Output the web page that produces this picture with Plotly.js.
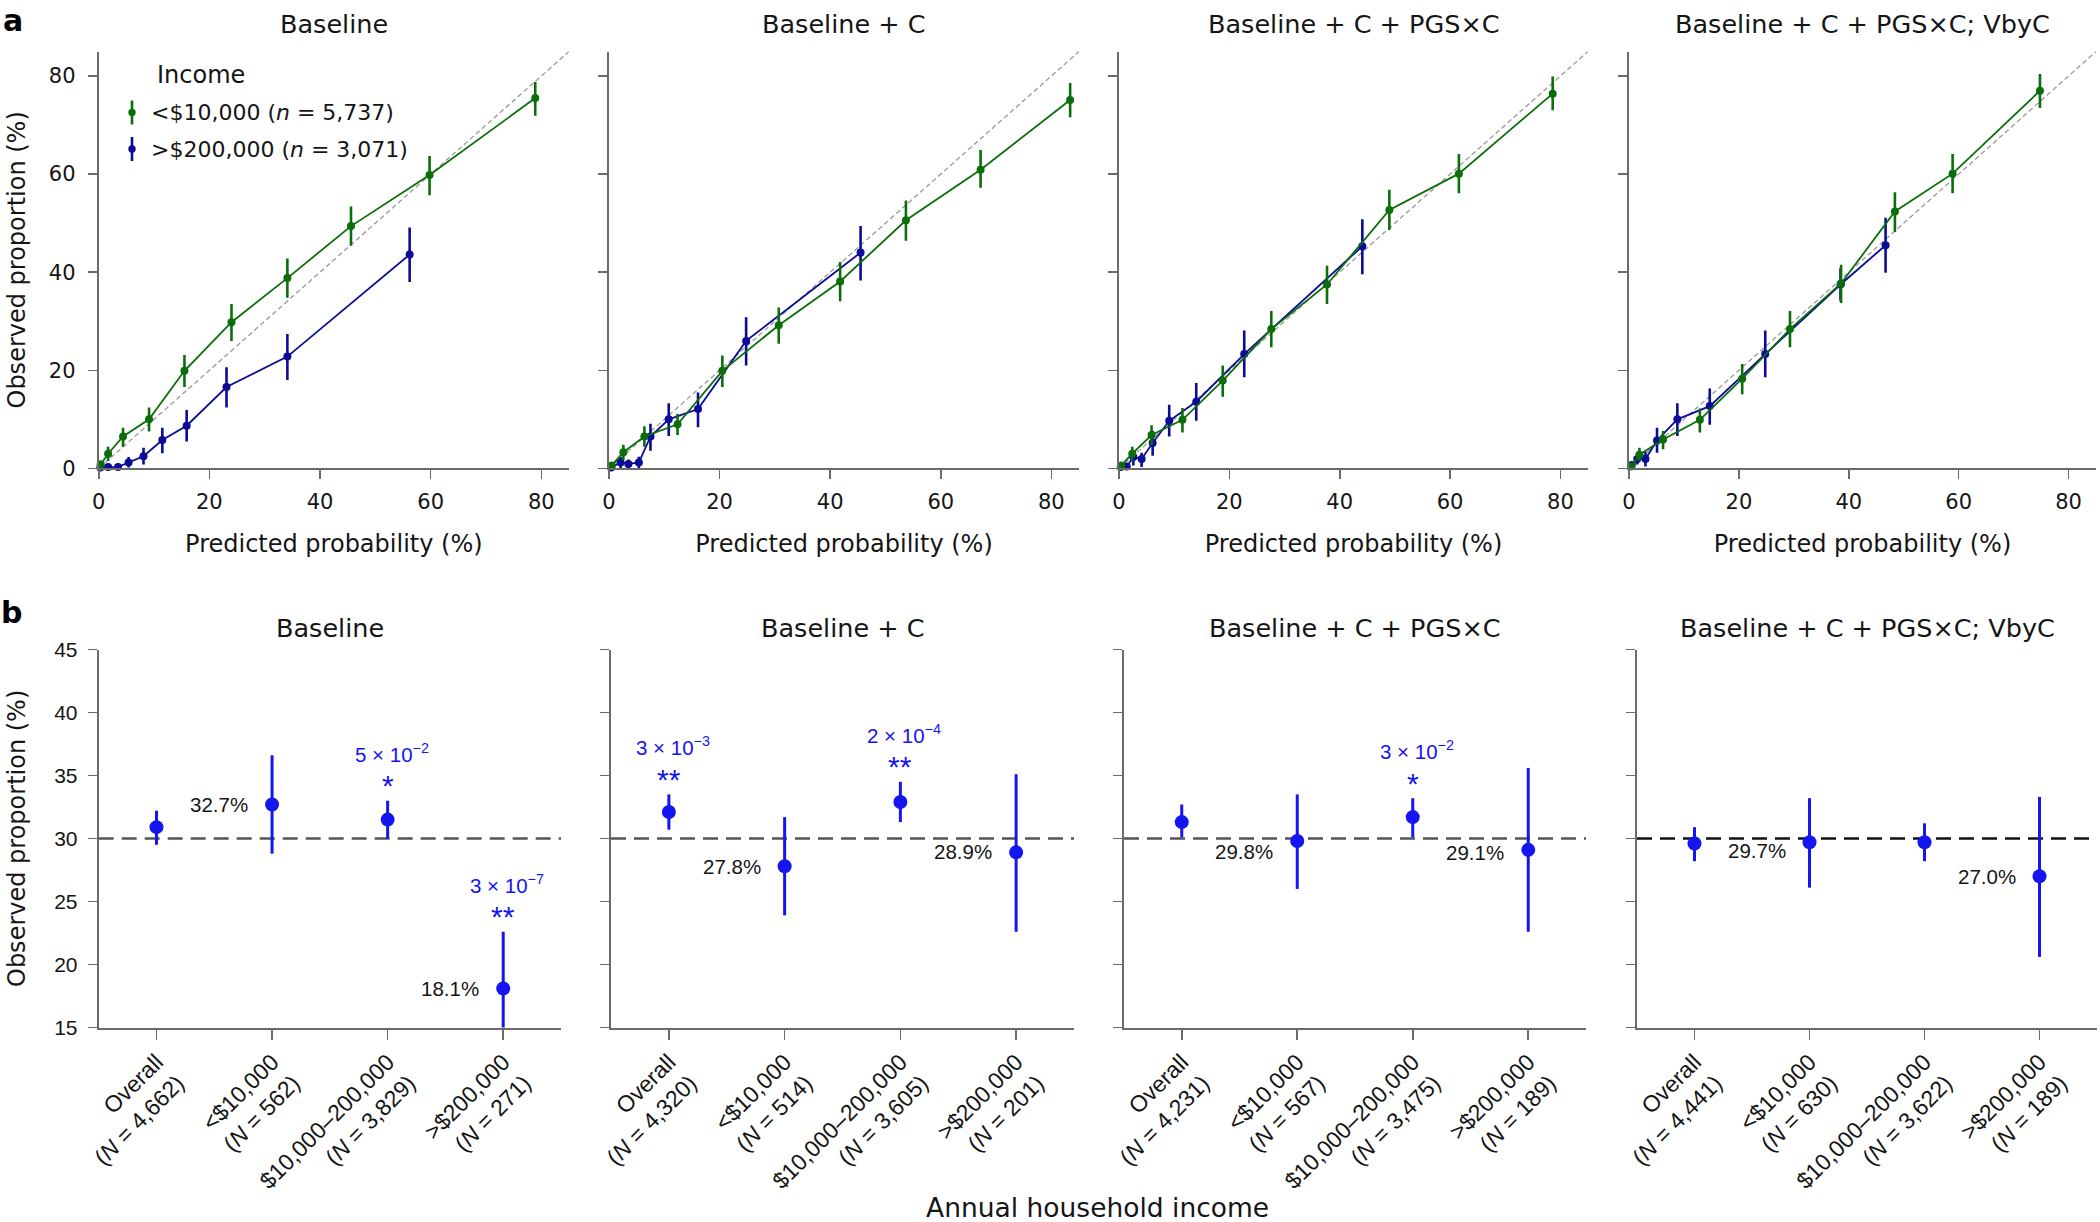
<!DOCTYPE html>
<html>
<head>
<meta charset="utf-8">
<script src="https://cdn.plot.ly/plotly-3.0.1.min.js"></script>
<style>html,body{margin:0;padding:0;background:#fff}#chart{width:2100px;height:1222px}</style>
</head>
<body>
<div id="chart"></div>
<script>
// ================= DATA =================
const PANEL_TITLES = ['Baseline', 'Baseline + C', 'Baseline + C + PGS×C', 'Baseline + C + PGS×C; VbyC'];
const LEGEND_TITLE = 'Income';
const GROUP_LABELS = ['&lt;$10,000', '&gt;$200,000'];
const GROUP_N = ['5,737', '3,071'];
const X_TITLE_TOP = 'Predicted probability (%)';
const Y_TITLE = 'Observed proportion (%)';
const X_TITLE_BOTTOM = 'Annual household income';
const TOP_TICKS = [0, 20, 40, 60, 80];
const TOP_RANGE = [0, 85];

// Panel a1 – Baseline
const A1_LOW_X  = [0.35, 1.7, 4.4, 9.1, 15.5, 24.0, 34.1, 45.6, 59.8, 78.9];
const A1_LOW_Y  = [0.8, 3.0, 6.5, 10.0, 19.9, 29.8, 38.8, 49.4, 59.8, 75.5];
const A1_LOW_LO = [0.1, 1.5, 4.4, 7.5, 16.6, 26.0, 34.8, 45.4, 55.7, 71.9];
const A1_LOW_HI = [1.6, 4.4, 8.3, 12.4, 23.1, 33.5, 42.8, 53.4, 63.7, 78.8];
const A1_HIGH_X  = [0.3, 1.7, 3.5, 5.4, 8.1, 11.5, 15.9, 23.1, 34.1, 56.2];
const A1_HIGH_Y  = [0.2, 0.3, 0.3, 1.2, 2.5, 5.8, 8.7, 16.6, 22.8, 43.6];
const A1_HIGH_LO = [0.0, 0.0, 0.0, 0.2, 0.8, 3.1, 5.5, 12.4, 18.0, 38.0];
const A1_HIGH_HI = [0.6, 0.8, 0.8, 2.3, 4.2, 8.3, 11.9, 20.6, 27.4, 49.1];

// Panel a2 – Baseline + C
const A2_LOW_X  = [0.5, 2.6, 6.4, 12.4, 20.5, 30.7, 41.8, 53.7, 67.2, 83.4];
const A2_LOW_Y  = [0.6, 3.3, 6.5, 9.0, 19.9, 29.2, 38.1, 50.6, 60.9, 75.1];
const A2_LOW_LO = [0.1, 1.7, 4.4, 6.8, 16.6, 25.4, 34.1, 46.4, 57.2, 71.6];
const A2_LOW_HI = [1.2, 4.8, 8.6, 11.1, 23.0, 32.8, 42.1, 54.6, 64.9, 78.6];
const A2_HIGH_X  = [0.4, 2.1, 3.5, 5.4, 7.5, 10.8, 16.1, 24.8, 45.5];
const A2_HIGH_Y  = [0.2, 1.2, 0.9, 1.2, 6.5, 10.0, 12.1, 26.0, 44.0];
const A2_HIGH_LO = [0.0, 0.1, 0.0, 0.1, 3.6, 6.6, 8.4, 21.0, 38.3];
const A2_HIGH_HI = [0.6, 2.3, 1.8, 2.4, 9.1, 13.3, 15.5, 30.8, 49.4];

// Panel a3 – Baseline + C + PGS×C
const A3_LOW_X  = [0.4, 2.4, 5.9, 11.5, 18.8, 27.6, 37.7, 49.0, 61.6, 78.6];
const A3_LOW_Y  = [0.6, 3.0, 6.8, 9.9, 17.9, 28.4, 37.5, 52.7, 60.1, 76.4];
const A3_LOW_LO = [0.1, 1.5, 4.7, 7.3, 14.6, 24.7, 33.5, 48.6, 56.1, 73.0];
const A3_LOW_HI = [1.2, 4.4, 8.8, 12.3, 21.0, 32.1, 41.3, 56.8, 64.1, 79.9];
const A3_HIGH_X  = [0.3, 1.4, 2.6, 4.1, 6.1, 9.1, 14.0, 22.7, 44.1];
const A3_HIGH_Y  = [0.3, 0.4, 2.3, 1.9, 5.2, 9.7, 13.6, 23.3, 45.3];
const A3_HIGH_LO = [0.0, 0.0, 0.6, 0.3, 2.6, 6.5, 9.7, 18.6, 39.6];
const A3_HIGH_HI = [0.7, 1.0, 3.6, 3.2, 7.7, 13.0, 17.4, 28.1, 50.8];

// Panel a4 – Baseline + C + PGS×C; VbyC
const A4_LOW_X  = [0.4, 1.9, 6.2, 12.9, 20.6, 29.3, 38.6, 48.4, 58.9, 74.8];
const A4_LOW_Y  = [0.4, 2.8, 5.9, 9.9, 18.3, 28.4, 37.7, 52.4, 60.1, 77.0];
const A4_LOW_LO = [0.0, 1.5, 3.9, 7.3, 15.1, 24.7, 33.7, 48.2, 56.1, 73.5];
const A4_LOW_HI = [1.0, 4.2, 7.6, 12.2, 21.3, 32.1, 41.5, 56.3, 64.1, 80.4];
const A4_HIGH_X  = [0.5, 1.5, 3.0, 5.1, 8.8, 14.7, 24.8, 38.5, 46.7];
const A4_HIGH_Y  = [0.7, 1.9, 1.9, 5.7, 10.0, 12.7, 23.3, 37.5, 45.5];
const A4_HIGH_LO = [0.1, 0.8, 0.4, 3.2, 6.6, 8.9, 18.6, 34.2, 39.9];
const A4_HIGH_HI = [1.3, 3.0, 3.4, 8.3, 13.3, 16.3, 28.1, 40.8, 51.1];

// Panel b – income categories
const CATEGORIES = ['Overall', '&lt;$10,000', '$10,000–200,000', '&gt;$200,000'];
const B_TICKS = [15, 20, 25, 30, 35, 40, 45];
const B_RANGE = [15, 45];
const REFERENCE_LEVEL = 30;
const LABELLED_CATS = [1, 3];

const B1_EST = [30.9, 32.7, 31.5, 18.1];
const B1_LO  = [29.5, 28.8, 30.0, 14.0];
const B1_HI  = [32.2, 36.6, 33.0, 22.6];
const B1_N   = ['4,662', '562', '3,829', '271'];
const B1_P_MANT = [null, null, 5, 3];
const B1_P_EXP  = [null, null, -2, -7];
const B1_STARS  = [null, null, '*', '**'];

const B2_EST = [32.1, 27.8, 32.9, 28.9];
const B2_LO  = [30.7, 23.9, 31.3, 22.6];
const B2_HI  = [33.5, 31.7, 34.5, 35.1];
const B2_N   = ['4,320', '514', '3,605', '201'];
const B2_P_MANT = [3, null, 2, null];
const B2_P_EXP  = [-3, null, -4, null];
const B2_STARS  = ['**', null, '**', null];

const B3_EST = [31.3, 29.8, 31.7, 29.1];
const B3_LO  = [30.1, 26.0, 30.1, 22.6];
const B3_HI  = [32.7, 33.5, 33.2, 35.6];
const B3_N   = ['4,231', '567', '3,475', '189'];
const B3_P_MANT = [null, null, 3, null];
const B3_P_EXP  = [null, null, -2, null];
const B3_STARS  = [null, null, '*', null];

const B4_EST = [29.6, 29.7, 29.7, 27.0];
const B4_LO  = [28.2, 26.1, 28.2, 20.6];
const B4_HI  = [30.9, 33.2, 31.2, 33.3];
const B4_N   = ['4,441', '630', '3,622', '189'];
const B4_P_MANT = [null, null, null, null];
const B4_P_EXP  = [null, null, null, null];
const B4_STARS  = [null, null, null, null];

// ================= LAYOUT / STYLE =================
const W = 2100, H = 1222;
const px = v => v / W;
const py = v => 1 - v / H;
const FONT = '"DejaVu Sans", sans-serif';
const FONT_B = '"Liberation Sans", Arial, sans-serif';
const GREEN = '#0b6e0b', NAVY = '#0b0b98', BLUE = '#1515ef';
const AXIS_C = '#6b6b6b', TEXT_C = '#151515';

const TOP_X = [[98.7, 569], [609, 1079], [1119, 1588], [1629, 2096]];
const TOP_Y = [51.5, 468.4];
const BOT_X = [[98.7, 561], [611, 1074], [1124, 1586], [1637, 2097]];
const BOT_Y = [649.5, 1027.5];
const LABEL_DY = [[0, 0], [0, 1], [-10, -3], [-8, 0]];
const REF_COLORS = ['#555555', '#555555', '#555555', '#111111'];

const TOP = [
  {low: [A1_LOW_X, A1_LOW_Y, A1_LOW_LO, A1_LOW_HI], high: [A1_HIGH_X, A1_HIGH_Y, A1_HIGH_LO, A1_HIGH_HI]},
  {low: [A2_LOW_X, A2_LOW_Y, A2_LOW_LO, A2_LOW_HI], high: [A2_HIGH_X, A2_HIGH_Y, A2_HIGH_LO, A2_HIGH_HI]},
  {low: [A3_LOW_X, A3_LOW_Y, A3_LOW_LO, A3_LOW_HI], high: [A3_HIGH_X, A3_HIGH_Y, A3_HIGH_LO, A3_HIGH_HI]},
  {low: [A4_LOW_X, A4_LOW_Y, A4_LOW_LO, A4_LOW_HI], high: [A4_HIGH_X, A4_HIGH_Y, A4_HIGH_LO, A4_HIGH_HI]}
];
const BOT = [
  [B1_EST, B1_LO, B1_HI, B1_N, B1_P_MANT, B1_P_EXP, B1_STARS],
  [B2_EST, B2_LO, B2_HI, B2_N, B2_P_MANT, B2_P_EXP, B2_STARS],
  [B3_EST, B3_LO, B3_HI, B3_N, B3_P_MANT, B3_P_EXP, B3_STARS],
  [B4_EST, B4_LO, B4_HI, B4_N, B4_P_MANT, B4_P_EXP, B4_STARS]
];

const traces = [];
const layout = {
  width: W, height: H,
  margin: {l: 0, r: 0, t: 0, b: 0},
  paper_bgcolor: '#fff', plot_bgcolor: '#fff',
  showlegend: false,
  font: {family: FONT, color: TEXT_C},
  annotations: [], shapes: []
};

function axisBase(font, size) {
  return {
    showline: true, linecolor: AXIS_C, linewidth: 2,
    ticks: 'outside', ticklen: 9, tickwidth: 1.6, tickcolor: AXIS_C,
    showgrid: false, zeroline: false, fixedrange: true,
    tickfont: {family: font, size: size, color: TEXT_C}
  };
}

function errTrace(x, y, lo, hi, xa, ya, color, opts) {
  return Object.assign({
    type: 'scatter', x: x, y: y, xaxis: xa, yaxis: ya,
    hoverinfo: 'skip',
    error_y: {type: 'data', symmetric: false,
      array: hi.map((h, i) => h - y[i]), arrayminus: lo.map((l, i) => y[i] - l),
      color: color, thickness: 2.6, width: 0}
  }, opts);
}

// ---- top row (a) ----
TOP.forEach((p, i) => {
  const s = i === 0 ? '' : String(i + 1);
  const xa = 'x' + s, ya = 'y' + s;
  [[p.high, NAVY], [p.low, GREEN]].forEach(([d, c]) => {
    traces.push(errTrace(d[0], d[1], d[2], d[3], xa, ya, c, {
      mode: 'lines+markers', line: {color: c, width: 1.8},
      marker: {color: c, size: 8}, cliponaxis: false
    }));
  });
  layout['xaxis' + s] = Object.assign(axisBase(FONT, 21), {
    domain: [px(TOP_X[i][0]), px(TOP_X[i][1])], anchor: ya,
    range: TOP_RANGE, tickvals: TOP_TICKS, ticklabelstandoff: 4,
    title: {text: X_TITLE_TOP, font: {family: FONT, size: 24, color: TEXT_C}, standoff: 23}
  });
  layout['yaxis' + s] = Object.assign(axisBase(FONT, 21), {
    domain: [py(TOP_Y[1]), py(TOP_Y[0])], anchor: xa,
    range: TOP_RANGE, tickvals: TOP_TICKS, showticklabels: i === 0, ticklabelstandoff: 8
  });
  layout.shapes.push({type: 'line', xref: xa, yref: ya, x0: TOP_RANGE[0], y0: TOP_RANGE[0], x1: TOP_RANGE[1], y1: TOP_RANGE[1],
    line: {color: '#9a9a9a', width: 1.3, dash: '5px,3px'}, layer: 'below'});
  layout.annotations.push({xref: 'paper', yref: 'paper', x: px((TOP_X[i][0] + TOP_X[i][1]) / 2), y: py(24),
    text: PANEL_TITLES[i], showarrow: false, xanchor: 'center', yanchor: 'middle',
    font: {family: FONT, size: 25.5, color: TEXT_C}});
});

// ---- bottom row (b) ----
BOT.forEach((b, i) => {
  const [est, lo, hi, n, pm, pe, stars] = b;
  const s = String(i + 5);
  const xa = 'x' + s, ya = 'y' + s;
  const cats = CATEGORIES.map((c, k) => k);
  traces.push(errTrace(cats, est, lo, hi, xa, ya, BLUE, {
    mode: 'markers', marker: {color: BLUE, size: 14}, cliponaxis: true
  }));
  traces[traces.length - 1].error_y.thickness = 3;
  layout['xaxis' + s] = Object.assign(axisBase(FONT_B, 23), {
    domain: [px(BOT_X[i][0]), px(BOT_X[i][1])], anchor: ya,
    range: [-0.5, CATEGORIES.length - 0.5], tickvals: cats,
    ticktext: CATEGORIES.map((c, k) => c + '<br>(<i>N</i> = ' + n[k] + ')'),
    tickangle: -45, ticklen: 10
  });
  layout['yaxis' + s] = Object.assign(axisBase(FONT_B, 21), {
    domain: [py(BOT_Y[1]), py(BOT_Y[0])], anchor: xa,
    range: B_RANGE, tickvals: B_TICKS, showticklabels: i === 0, ticklabelstandoff: 6
  });
  layout.shapes.push({type: 'line', xref: xa + ' domain', yref: ya, x0: 0, x1: 1, y0: REFERENCE_LEVEL, y1: REFERENCE_LEVEL,
    line: {color: REF_COLORS[i], width: 2.6, dash: '15px,8px'}, layer: 'below'});
  layout.annotations.push({xref: 'paper', yref: 'paper', x: px((BOT_X[i][0] + BOT_X[i][1]) / 2), y: py(628),
    text: PANEL_TITLES[i], showarrow: false, xanchor: 'center', yanchor: 'middle',
    font: {family: FONT, size: 25.5, color: TEXT_C}});
  LABELLED_CATS.forEach((k, j) => {
    layout.annotations.push({xref: xa, yref: ya, x: k, y: est[k], text: est[k].toFixed(1) + '%',
      showarrow: false, xanchor: 'right', yanchor: 'middle', xshift: -22, yshift: LABEL_DY[i][j],
      font: {family: FONT_B, size: 20.5, color: TEXT_C}});
  });
  cats.forEach(k => {
    if (pm[k] === null) return;
    layout.annotations.push({xref: xa, yref: ya, x: k, y: hi[k],
      text: pm[k] + ' × 10<sup>−' + Math.abs(pe[k]) + '</sup>',
      showarrow: false, xanchor: 'center', yanchor: 'middle', yshift: 48, xshift: 4,
      font: {family: FONT_B, size: 20.5, color: BLUE}});
    layout.annotations.push({xref: xa, yref: ya, x: k, y: hi[k], text: stars[k],
      showarrow: false, xanchor: 'center', yanchor: 'middle', yshift: 15,
      font: {family: FONT_B, size: 30, color: BLUE}});
  });
});

// ---- legend (panel a1) ----
layout.annotations.push({xref: 'paper', yref: 'paper', x: px(155), y: py(75), text: LEGEND_TITLE,
  showarrow: false, xanchor: 'left', yanchor: 'middle', font: {family: FONT, size: 24, color: TEXT_C}});
[[GREEN, 112.5], [NAVY, 149]].forEach(([c, yc], j) => {
  layout.annotations.push({xref: 'paper', yref: 'paper', x: px(149), y: py(yc),
    text: GROUP_LABELS[j] + ' (<i>n</i> = ' + GROUP_N[j] + ')',
    showarrow: false, xanchor: 'left', yanchor: 'middle', font: {family: FONT, size: 22, color: TEXT_C}});
  layout.shapes.push({type: 'line', xref: 'paper', yref: 'paper', x0: px(132), x1: px(132), y0: py(yc - 12), y1: py(yc + 12),
    line: {color: c, width: 2.6}});
  layout.shapes.push({type: 'circle', xref: 'paper', yref: 'paper', x0: px(128.3), x1: px(135.7), y0: py(yc + 3.7), y1: py(yc - 3.7),
    fillcolor: c, line: {color: c, width: 0}});
});

// ---- shared titles / panel letters ----
[260, 838.5].forEach(yc => {
  layout.annotations.push({xref: 'paper', yref: 'paper', x: px(16.5), y: py(yc), text: Y_TITLE, textangle: -90,
    showarrow: false, xanchor: 'center', yanchor: 'middle', font: {family: FONT, size: 24, color: TEXT_C}});
});
layout.annotations.push({xref: 'paper', yref: 'paper', x: px((BOT_X[0][0] + BOT_X[3][1]) / 2), y: py(1207),
  text: X_TITLE_BOTTOM, showarrow: false, xanchor: 'center', yanchor: 'middle',
  font: {family: FONT, size: 26.5, color: TEXT_C}});
layout.annotations.push({xref: 'paper', yref: 'paper', x: px(1), y: py(1), text: '<b>a</b>',
  showarrow: false, xanchor: 'left', yanchor: 'top', font: {family: FONT, size: 30, color: '#000'}});
layout.annotations.push({xref: 'paper', yref: 'paper', x: px(11), y: py(612), text: '<b>b</b>',
  showarrow: false, xanchor: 'center', yanchor: 'middle', font: {family: FONT, size: 30, color: '#000'}});

Plotly.newPlot('chart', traces, layout, {displayModeBar: false, staticPlot: true});
</script>
</body>
</html>
